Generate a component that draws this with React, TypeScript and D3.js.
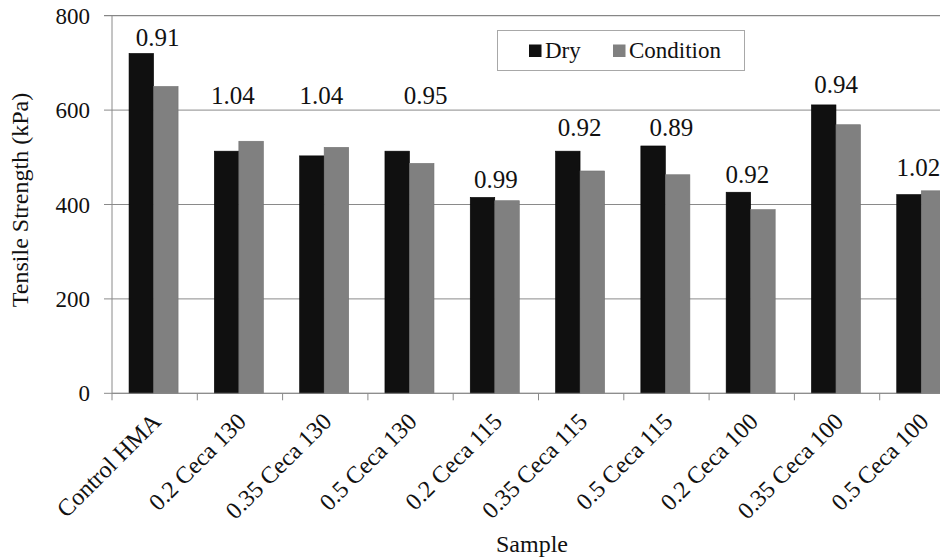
import React from "react";
import * as d3 from "d3";

// ---- data ----
const categories = [
  "Control HMA",
  "0.2 Ceca 130",
  "0.35 Ceca 130",
  "0.5 Ceca 130",
  "0.2 Ceca 115",
  "0.35 Ceca 115",
  "0.5 Ceca 115",
  "0.2 Ceca 100",
  "0.35 Ceca 100",
  "0.5 Ceca 100",
];
const seriesNames = ["Dry", "Condition"];
const dryValues = [720, 513, 503, 513, 415, 513, 524, 426, 611, 421];
const conditionValues = [650, 534, 521, 487, 408, 471, 463, 389, 569, 429];
const ratioLabels = ["0.91", "1.04", "1.04", "0.95", "0.99", "0.92", "0.89", "0.92", "0.94", "1.02"];
// height (kPa) at which each ratio text sits
const ratioLabelLevel = [736, 612, 613, 613, 436, 545, 545, 446, 636, 460];
const yTicks = [0, 200, 400, 600, 800];

// ---- layout ----
const W = 940;
const H = 559;
const plotLeft = 112;
const plotTop = 15.7;
const plotBottom = 393.3;
const bandStep = 85.3;
const ratioShift = [3, -7, -4, 15, 0, -1.5, 5, -4.5, -1, -4];
const colors: Record<string, string> = { Dry: "#101010", Condition: "#808080" };
const gridColor = "#8a8a8a";
const SERIF = "'Liberation Serif', 'DejaVu Serif', 'Noto Serif', Georgia, serif";

function T(props: any) {
  const { children, size, ...rest } = props;
  return (
    <text fontSize={size} fill="#111" style={{ fontFamily: SERIF }} {...rest}>
      {children}
    </text>
  );
}

export default function App() {
  const x = d3
    .scaleBand<string>()
    .domain(categories)
    .range([plotLeft, plotLeft + bandStep * categories.length])
    .paddingInner(0)
    .paddingOuter(0);
  const inner = d3
    .scaleBand<string>()
    .domain(seriesNames)
    .range([0, x.bandwidth()])
    .paddingInner(0)
    .paddingOuter(0.74)
    .align(0.47);
  const y = d3.scaleLinear().domain([0, 800]).range([plotBottom, plotTop]);

  const seriesValues: Record<string, number[]> = {
    Dry: dryValues,
    Condition: conditionValues,
  };

  const bandEdges = categories
    .map((c) => x(c)!)
    .concat([x(categories[categories.length - 1])! + x.bandwidth()]);

  return (
    <svg width={W} height={H} style={{ position: "absolute", left: 0, top: 0 }}>
      <rect x={0} y={0} width={W} height={H} fill="#fff" />
      {/* gridlines */}
      {yTicks.map((t) => (
        <line
          key={"g" + t}
          x1={plotLeft - 8}
          x2={W}
          y1={y(t)}
          y2={y(t)}
          stroke={t === 800 ? "#6a6a6a" : gridColor}
          strokeWidth={1}
        />
      ))}
      {/* y tick labels */}
      {yTicks.map((t) => (
        <T key={"yl" + t} x={90} y={y(t)} dy="0.35em" textAnchor="end" size={23}>
          {t}
        </T>
      ))}
      {/* bars */}
      {categories.map((c, i) =>
        seriesNames.map((s) => {
          const v = seriesValues[s][i];
          return (
            <rect
              key={c + s}
              x={x(c)! + inner(s)!}
              y={y(v)}
              width={inner.bandwidth()}
              height={y(0) - y(v)}
              fill={colors[s]}
              stroke={s === "Dry" ? "#000" : "#707070"}
              strokeWidth={0.6}
            />
          );
        })
      )}
      {/* axes */}
      <line x1={plotLeft} x2={plotLeft} y1={plotTop} y2={plotBottom} stroke={gridColor} strokeWidth={1} />
      <line x1={plotLeft} x2={W} y1={plotBottom} y2={plotBottom} stroke={gridColor} strokeWidth={1} />
      {bandEdges.map((e, i) => (
        <line key={"xt" + i} x1={e} x2={e} y1={plotBottom} y2={plotBottom + 7} stroke={gridColor} strokeWidth={1} />
      ))}
      {/* ratio labels */}
      {categories.map((c, i) => (
        <T
          key={"r" + i}
          x={x(c)! + x.bandwidth() / 2 + ratioShift[i]}
          y={y(ratioLabelLevel[i])}
          textAnchor="middle"
          size={25}
        >
          {ratioLabels[i]}
        </T>
      ))}
      {/* x tick labels */}
      {categories.map((c) => {
        const cx = x(c)! + x.bandwidth() / 2 + 2;
        const cy = plotBottom + 24;
        return (
          <T
            key={"xl" + c}
            x={cx}
            y={cy}
            transform={`rotate(-45, ${cx}, ${cy})`}
            textAnchor="end"
            dominantBaseline="central"
            size={24}
          >
            {c}
          </T>
        );
      })}
      {/* axis titles */}
      <T x={532} y={552} textAnchor="middle" size={24}>
        Sample
      </T>
      <T x={28} y={200} transform="rotate(-90, 28, 200)" textAnchor="middle" size={24}>
        Tensile Strength (kPa)
      </T>
      {/* legend */}
      <rect x={497.5} y={30.5} width={247} height={40} fill="#fff" stroke="#a8a8a8" strokeWidth={1} />
      {seriesNames.map((s, i) => {
        const lx = i === 0 ? 529 : 613;
        return (
          <g key={"lg" + s}>
            <rect x={lx} y={44.5} width={12.5} height={12.5} fill={colors[s]} />
            <T x={lx + 16} y={58} size={23}>
              {s}
            </T>
          </g>
        );
      })}
    </svg>
  );
}
